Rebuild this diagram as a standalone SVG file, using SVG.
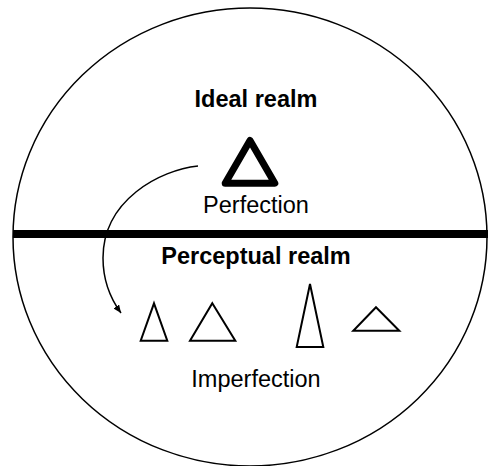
<svg xmlns="http://www.w3.org/2000/svg" width="488" height="466" viewBox="0 0 488 466">
<style>
.lbl{font-family:"Liberation Sans",Arial,sans-serif;font-size:23.5px;fill:#000;text-anchor:middle}
.b{font-weight:bold}
.tri{fill:none;stroke:#000;stroke-width:2;stroke-linejoin:miter}
</style>
<defs>
<marker id="ah" markerUnits="userSpaceOnUse" markerWidth="10" markerHeight="8" refX="8" refY="3.5" orient="auto">
<path d="M0,0 L8,3.5 L0,7 z" fill="#000"/>
</marker>
</defs>
<rect width="488" height="466" fill="#fff"/>
<g id="world">
<ellipse cx="250" cy="237" rx="237" ry="229" fill="none" stroke="#000" stroke-width="1.5"/>
<line x1="13" y1="234" x2="488" y2="234" stroke="#000" stroke-width="8"/>
</g>
<g id="ideal">
<text class="lbl b" x="256" y="106.5">Ideal realm</text>
</g>
<g id="perfection">
<polygon points="250,140.5 274.8,183.2 225.2,183.2" fill="none" stroke="#000" stroke-width="7" stroke-linejoin="round"/>
<text class="lbl" x="256" y="212.5">Perfection</text>
</g>
<g id="perceptual">
<text class="lbl b" x="256" y="263.5">Perceptual realm</text>
</g>
<g id="imperfection">
<polygon class="tri" points="154,303.3 167.3,340.7 140.7,340.7"/>
<polygon class="tri" points="212.3,303.3 235.3,340.7 190,340.7"/>
<polygon class="tri" points="310,284 323.3,347 296.7,347"/>
<polygon class="tri" points="376,307.3 399.3,330.7 353.3,330.7"/>
<text class="lbl" x="256" y="387">Imperfection</text>
</g>
<g id="connectors">
<path d="M198,166 C160,170 103,200 103,258 C103,280 110,298 121,313" fill="none" stroke="#000" stroke-width="1.5" marker-end="url(#ah)"/>
</g>
</svg>
